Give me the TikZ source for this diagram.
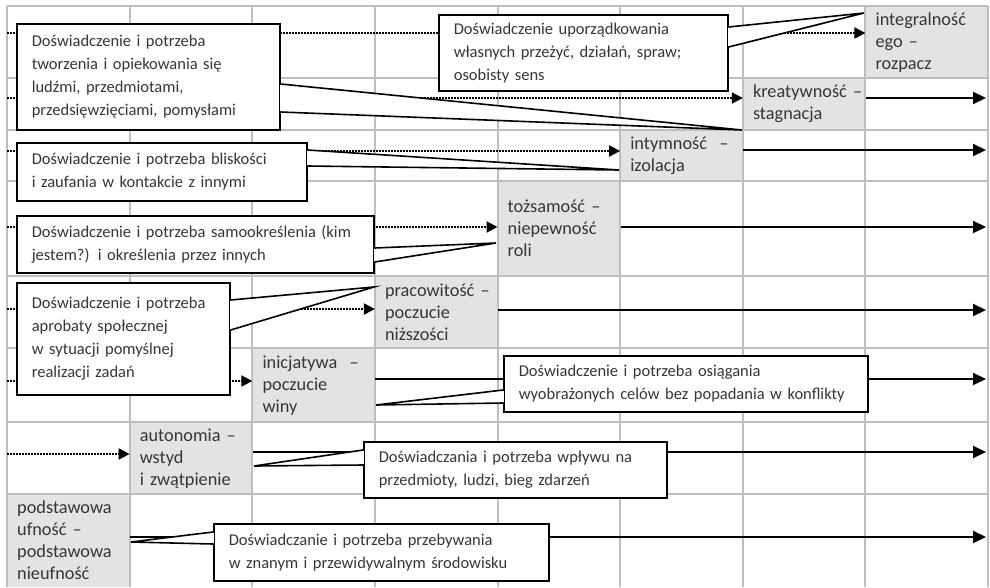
\documentclass[tikz,border=0pt]{standalone}
\usepackage{fontspec}
\setmainfont{Carlito}
\usetikzlibrary{arrows.meta}
\definecolor{cellgray}{HTML}{E3E3E3}
\definecolor{gridgray}{HTML}{BEBEBE}
\definecolor{ink}{HTML}{363636}
\newcommand{\celltext}{\fontsize{18.3}{22}\selectfont}
\newcommand{\notetext}{\fontsize{16.5}{23}\selectfont}

\begin{document}
\begin{tikzpicture}[x=1pt,y=-1pt,
  stage/.style={fill=cellgray, anchor=north west, inner xsep=10pt, inner ysep=0pt,
    text width=102.6pt, align=left, font=\celltext, text=ink, minimum height=#1},
  note/.style={draw=black, line width=1.6pt, fill=white, anchor=north west,
    inner xsep=15pt, inner ysep=0pt, align=left, font=\notetext, text=ink},
  gridline/.style={draw=gridgray, line width=2pt},
  flow/.style={draw=black, line width=2pt, -{Triangle[length=13pt,width=12pt]}},
  lead/.style={draw=black, line width=2pt, dash pattern=on 1.5pt off 1.5pt,
    -{Triangle[length=11pt,width=11pt]}},
  wedgefill/.style={fill=white},
  wedgeedge/.style={draw=black, line width=1.6pt, line join=miter},
  erase/.style={draw=white, line width=2.2pt}
]
\useasboundingbox (0,0) rectangle (990,587);

% stages on the diagonal
\node[stage=72pt] (g1) at (865.4,6)   {\mbox{integralność}\\\mbox{ego –}\\rozpacz};
\node[stage=52pt] (g2) at (742.8,78)  {\mbox{kreatywność –}\\stagnacja};
\node[stage=51pt] (g3) at (620.1,130) {\mbox{intymność \ –}\\izolacja};
\node[stage=95pt] (g4) at (497.5,181) {\mbox{tożsamość –}\\niepewność\\roli};
\node[stage=72pt] (g5) at (374.9,276) {\mbox{pracowitość –}\\poczucie\\niższości};
\node[stage=74pt] (g6) at (252.3,348) {\mbox{inicjatywa \ –}\\poczucie\\winy};
\node[stage=72pt] (g7) at (129.6,422) {\mbox{autonomia –}\\wstyd\\\mbox{i zwątpienie}};
\node[stage=93pt] (g8) at (7,494)     {podstawowa\\\mbox{ufność –}\\podstawowa\\nieufność};

% grid
\foreach \x in {7,129.6,252.3,374.9,497.5,620.1,742.8,865.4,988}
  \draw[gridline] (\x,6) -- (\x,587);
\foreach \y in {6,78,130,181,276,348,422,494}
  \draw[gridline] (7,\y) -- (988,\y);

% free ends of the arrows
\foreach \n/\y in {1/33,2/98,3/151,4/227,5/309,6/381,7/454}
  \coordinate (in\n) at (7,\y);
\foreach \n/\y in {2/98,3/150,4/227,5/310,6/379,7/452,8/537}
  \coordinate (out\n) at (986,\y);

% dotted arrows into each stage
\foreach \n in {1,...,7}
  \draw[lead] (in\n) -- (g\n.west |- in\n);

% solid arrows out of each stage
\foreach \n in {2,...,8}
  \draw[flow] (g\n.east |- out\n) -- (out\n);

% pointer tips
\coordinate (tA) at (742,130);
\coordinate (tB) at (619,170);
\coordinate (tC) at (864,13);
\coordinate (tD) at (496,243);
\coordinate (tE) at (374,287);
\coordinate (tF) at (376,405);
\coordinate (tG) at (254,466);
\coordinate (tH) at (131,542);

% callouts
\node[note, text width=233pt, minimum height=106pt] (cA) at (16,23)
  {Doświadczenie i potrzeba\\tworzenia i opiekowania się\\ludźmi, przedmiotami,\\przedsięwzięciami, pomysłami};
\node[note, text width=260pt, minimum height=58pt] (cB) at (16,142)
  {Doświadczenie i potrzeba bliskości\\i zaufania w kontakcie z innymi};
\node[note, text width=259pt, minimum height=76pt] (cC) at (438,14)
  {Doświadczenie uporządkowania\\\mbox{własnych przeżyć, działań, spraw;}\\osobisty sens};
\node[note, text width=327pt, minimum height=57pt] (cD) at (16,215)
  {\mbox{Doświadczenie i potrzeba samookreślenia (kim}\\jestem?) i określenia przez innych};
\node[note, text width=183pt, minimum height=112pt] (cE) at (16,282)
  {\mbox{Doświadczenie i potrzeba}\\aprobaty społecznej\\w sytuacji pomyślnej\\realizacji zadań};
\node[note, text width=334pt, minimum height=56pt] (cF) at (503,355)
  {Doświadczenie i potrzeba osiągania\\\mbox{wyobrażonych celów bez popadania w konflikty}};
\node[note, text width=273pt, minimum height=56pt] (cG) at (363,441)
  {Doświadczania i potrzeba wpływu na\\przedmioty, ludzi, bieg zdarzeń};
\node[note, text width=305pt, minimum height=57pt] (cH) at (213,523)
  {Doświadczanie i potrzeba przebywania\\w znanym i przewidywalnym środowisku};

% pointers: box side -> stage
\foreach \c/\side/\ya/\yb in {A/east/84/112, B/east/150/166, C/east/27/47,
    D/east/248/262, E/east/300/330, F/west/390/403, G/west/450/465, H/west/532/544} {
  \fill[wedgefill] (c\c.\side |- 0,\ya) -- (t\c) -- (c\c.\side |- 0,\yb) -- cycle;
  \draw[erase] (c\c.\side |- 0,\ya+1.2) -- (c\c.\side |- 0,\yb-1.2);
  \draw[wedgeedge] (c\c.\side |- 0,\ya) -- (t\c) -- (c\c.\side |- 0,\yb);
}
\end{tikzpicture}
\end{document}
